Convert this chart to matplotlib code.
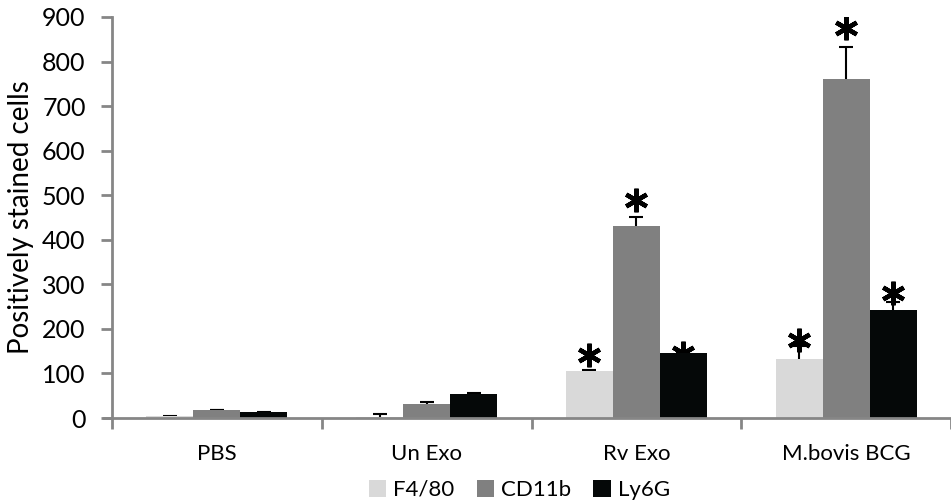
import matplotlib.pyplot as plt
import numpy as np

plt.rcParams['font.family'] = ['Lato', 'DejaVu Sans']

groups = ['PBS', 'Un Exo', 'Rv Exo', 'M.bovis BCG']
series = ['F4/80', 'CD11b', 'Ly6G']
colors = ['#d9d9d9', '#808080', '#050808']

f480 = [4, 3, 106, 132]
f480_err = [1, 6, 2, 30]
cd11b = [18, 32, 431, 761]
cd11b_err = [1, 3, 20, 72]
ly6g = [13, 54, 146, 242]
ly6g_err = [1, 3, 2, 19]

# significance stars: (group index, series index, height)
stars = [(2, 0, 141), (2, 1, 489), (2, 2, 146), (3, 0, 175), (3, 1, 875), (3, 2, 280)]

values = [f480, cd11b, ly6g]
errors = [f480_err, cd11b_err, ly6g_err]

fig = plt.figure(figsize=(9.51, 5.04), dpi=100)
ax = fig.add_axes([0.1178, 0.1706, 0.8822, 0.7957])

x = np.arange(len(groups))
w = 0.224
for i, (vals, errs) in enumerate(zip(values, errors)):
    ax.bar(x + (i - 1) * w, vals, w, color=colors[i], label=series[i], zorder=2)
    # symmetric bars drawn under the bars, so only the upper half shows
    ax.errorbar(x + (i - 1) * w, vals, yerr=errs, fmt='none',
                ecolor='black', elinewidth=1.5, capsize=5, capthick=1.5, zorder=1)

for g, s, h in stars:
    ax.plot(x[g] + (s - 1) * w, h, marker=(6, 2, 0), markersize=17, mew=3.2,
            color='black', zorder=1)

ax.set_xlim(-0.5, 3.5)
ax.set_ylim(0, 900)
ax.set_yticks(np.arange(0, 901, 100))
ax.set_xticks(np.arange(-0.5, 3.6, 1))
ax.set_xticklabels([])
ax.set_xticks(x, minor=True)
ax.set_xticklabels(groups, minor=True)
ax.tick_params(axis='x', which='minor', length=0, pad=19, labelsize=16)
ax.tick_params(axis='x', which='major', length=8, width=2, color='#868686')
ax.tick_params(axis='y', length=8, width=2, color='#868686', labelsize=18, pad=11)

for side in ['top', 'right']:
    ax.spines[side].set_visible(False)
for side in ['left', 'bottom']:
    ax.spines[side].set_color('#868686')
    ax.spines[side].set_linewidth(2)
ax.spines['bottom'].set_bounds(-0.54, 3.5)

ax.set_ylabel('Positively stained cells', fontsize=20, labelpad=6)

fig.legend(loc='center', bbox_to_anchor=(0.546, 0.028), ncol=3, frameon=False,
           fontsize=16, handlelength=0.8, handleheight=0.8, handletextpad=0.3,
           columnspacing=1.0)

fig.savefig('out.png', dpi=100)
